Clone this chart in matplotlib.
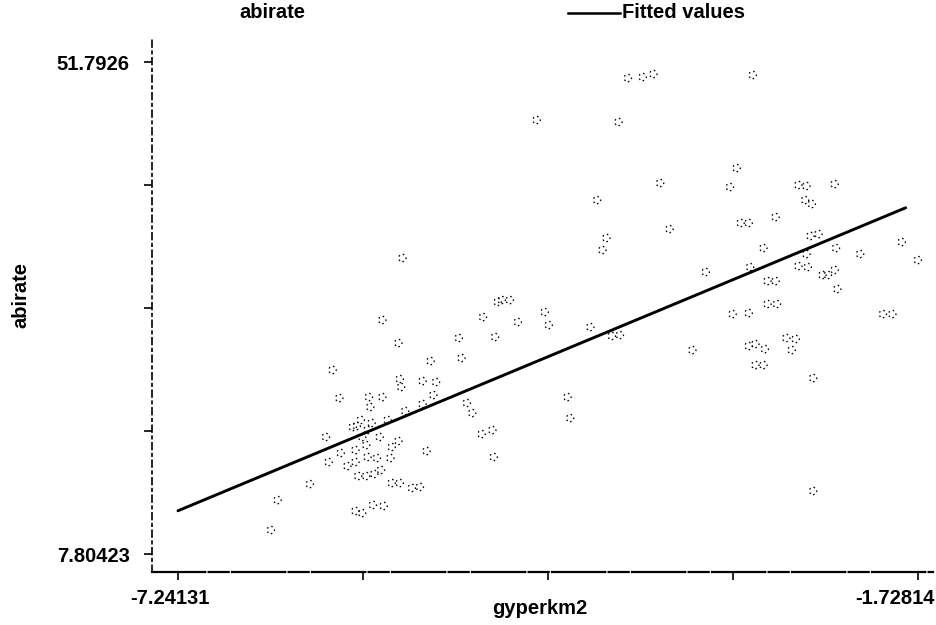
import numpy as np
import matplotlib
matplotlib.use("Agg")
import matplotlib.pyplot as plt
import matplotlib.transforms as mtransforms

plt.rcParams['font.family'] = ['Liberation Sans', 'DejaVu Sans']

# gyperkm2 (x) and abirate (y) observations
gyperkm2 = [
    -3.89, -3.78, -3.70, -2.96, -3.96, -4.12, -3.65, -3.08, -3.13, -3.58,
    -4.05, -4.08, -2.79, -3.05, -2.99, -2.62, -2.56, -2.35, -2.57, -2.52,
    -2.53, -2.47, -1.85, -2.88, -2.56, -2.34, -2.16, -1.73, -2.98, -2.62,
    -2.55, -2.35, -2.44, -2.40, -2.33, -2.85, -2.79, -2.85, -2.78, -3.11,
    -2.99, -1.99, -1.92, -2.99, -2.94, -2.87, -2.71, -2.64, -2.67, -2.94,
    -2.88, -2.51, -2.51, -3.31, -3.41, -4.01, -3.95, -4.17, -4.51, -4.48,
    -4.71, -4.83, -4.77, -4.57, -4.34, -4.32, -4.97, -5.72, -4.88, -5.60,
    -5.15, -5.13, -5.36, -6.09, -5.59, -5.58, -5.42, -5.32, -5.34, -5.42,
    -5.82, -6.04, -5.72, -5.81, -5.55, -5.88, -5.91, -5.80, -5.68, -5.74,
    -6.14, -5.83, -5.87, -5.60, -5.65, -5.92, -5.84, -6.03, -5.66, -5.76,
    -5.39, -5.83, -6.12, -5.98, -5.92, -5.73, -5.78, -5.90, -5.84, -5.65,
    -5.59, -5.50, -5.44, -6.26, -5.79, -5.71, -5.92, -5.87, -5.09, -5.05,
    -4.98, -4.90, -4.89, -4.86, -6.50, -6.55, -5.57, -5.94,
]
abirate = [
    50.36, 50.45, 50.72, 50.63, 46.43, 39.45, 40.97, 42.31, 40.62, 36.86,
    36.06, 34.98, 37.93, 37.40, 37.40, 40.80, 40.71, 40.88, 39.45, 39.10,
    36.24, 36.41, 35.70, 35.16, 34.63, 35.16, 34.63, 34.09, 33.46, 33.55,
    33.46, 33.20, 32.75, 32.75, 31.50, 32.21, 32.21, 30.16, 30.16, 29.26,
    29.35, 29.26, 29.26, 26.40, 26.58, 26.13, 27.12, 27.03, 26.04, 24.70,
    24.70, 23.54, 13.44, 33.02, 26.04, 27.30, 27.38, 28.10, 29.44, 28.28,
    28.55, 30.51, 30.51, 46.61, 21.84, 19.96, 28.99, 28.73, 27.21, 26.67,
    27.12, 25.33, 25.06, 24.26, 23.45, 22.74, 23.27, 23.18, 22.02, 21.22,
    21.84, 21.75, 21.84, 20.95, 20.59, 19.79, 19.25, 19.52, 19.79, 18.27,
    18.27, 18.89, 18.27, 17.91, 17.37, 17.10, 17.55, 16.84, 16.39, 16.39,
    17.01, 16.48, 16.03, 15.67, 16.03, 15.32, 14.96, 14.78, 14.78, 14.15,
    14.15, 13.71, 13.80, 14.06, 12.19, 12.10, 11.65, 11.47, 21.31, 20.41,
    18.53, 18.89, 16.48, 30.34, 12.63, 9.95, 34.27, 19.16,
]

# Fitted values (linear fit of abirate on gyperkm2)
fit_x = [-7.24131, -1.82]
fit_y = [11.67, 38.76]

# Axis extremes shown as labels
x_min, x_max = -7.24131, -1.72814
y_min, y_max = 7.80423, 51.7926
x_labels = ["-7.24131", "-1.72814"]
y_labels = ["7.80423", "51.7926"]

W, H = 937, 625
fig = plt.figure(figsize=(W / 100, H / 100), dpi=100)
ax = fig.add_axes([152 / W, 1 - 572 / H, (933 - 152) / W, (572 - 40) / H])

ax.scatter(gyperkm2, abirate, s=28, facecolors='none', edgecolors='black',
           linewidths=0.95, linestyles=(0, (1.2, 2.4)), zorder=2)
ax.plot(fit_x, fit_y, color='black', lw=2.1, zorder=3, solid_capstyle='round')

ax.set_xlim(-7.435, -1.6164)
ax.set_ylim(6.195, 53.76)

xt = np.linspace(x_min, x_max, 5)
yt = np.linspace(y_min, y_max, 5)
ax.set_xticks(xt)
ax.set_yticks(yt)
ax.set_xticklabels([x_labels[0], "", "", "", x_labels[1]])
ax.set_yticklabels([y_labels[0], "", "", "", y_labels[1]])

for s in ("top", "right"):
    ax.spines[s].set_visible(False)
ax.spines["left"].set_linewidth(1.2)
ax.spines["left"].set_linestyle((0, (4, 2.5, 1.5, 2.5)))
ax.spines["bottom"].set_linewidth(1.6)
ax.spines["bottom"].set_linestyle((0, (24, 1.5, 9, 1.5)))

ax.tick_params(axis='both', direction='out', length=6, width=1.2,
               colors='black', labelsize=14.5)
ax.tick_params(axis='y', pad=10)
ax.tick_params(axis='x', pad=6)
for lab in ax.get_xticklabels() + ax.get_yticklabels():
    lab.set_fontweight('bold')

# shift the outer x labels the way the axis prints them
xl = ax.get_xticklabels()
xl[0].set_transform(xl[0].get_transform() +
                    mtransforms.ScaledTranslation(-8 / 100, 0, fig.dpi_scale_trans))
xl[-1].set_transform(xl[-1].get_transform() +
                     mtransforms.ScaledTranslation(-23 / 100, 0, fig.dpi_scale_trans))

ax.set_xlabel("gyperkm2", fontsize=14.5, fontweight='bold')
ax.set_ylabel("abirate", fontsize=14.5, fontweight='bold')
ax.xaxis.set_label_coords((540 - 152) / (933 - 152), -(599 - 572) / (572 - 40))
ax.yaxis.set_label_coords(-(152 - 30) / (933 - 152), 1 - (295 - 40) / (572 - 40))

# key above the plot
fig.text(272 / W, 1 - 12 / H, "abirate", ha='center', va='center',
         fontsize=14.5, fontweight='bold')
fig.add_artist(plt.Line2D([568 / W, 620 / W], [1 - 13 / H, 1 - 13 / H],
                          color='black', lw=1.8, transform=fig.transFigure))
fig.text(622 / W, 1 - 12 / H, "Fitted values", ha='left', va='center',
         fontsize=14.5, fontweight='bold')

fig.savefig("out.png", dpi=100)
